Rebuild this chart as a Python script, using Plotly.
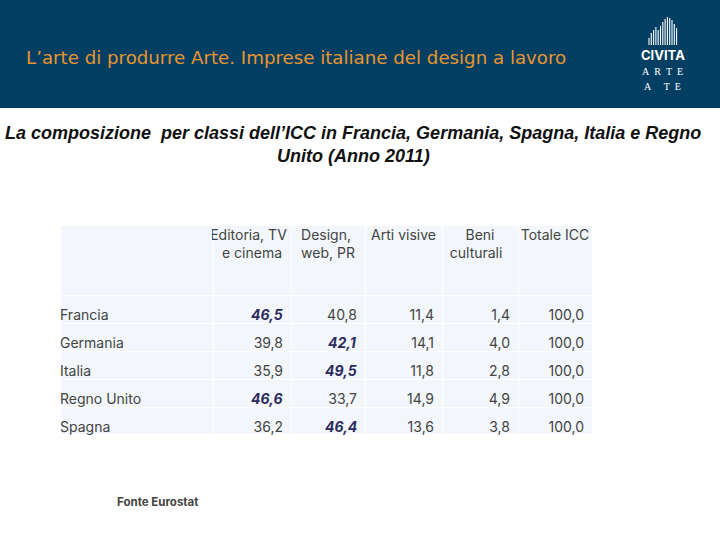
import plotly.graph_objects as go

# table data
countries = ["Francia", "Germania", "Italia", "Regno Unito", "Spagna"]
editoria = ["46,5", "39,8", "35,9", "46,6", "36,2"]
design = ["40,8", "42,1", "49,5", "33,7", "46,4"]
arti = ["11,4", "14,1", "11,8", "14,9", "13,6"]
beni = ["1,4", "4,0", "2,8", "4,9", "3,8"]
totale = ["100,0", "100,0", "100,0", "100,0", "100,0"]
headers = ["",
           "Editoria,\u00a0TV<br>\u00a0\u00a0\u00a0e\u00a0cinema\u00a0\u00a0\u00a0",
           "Design,<br>web,\u00a0PR",
           "Arti\u00a0visive<br>\u00a0",
           "\u00a0\u00a0\u00a0\u00a0Beni\u00a0\u00a0\u00a0\u00a0<br>culturali",
           "Totale\u00a0ICC<br>\u00a0"]
stripe_tops = [38, 33, 30, 27, 30, 26, 22, 19, 17, 18, 20, 24, 28]

W, H = 720, 540
FONT = "Inter"
TEXT = "#444444"
BOLD = "#2B2B5E"
FILL = "#F3F7FB"
NONE = "rgba(0,0,0,0)"
SIZE = 14
NB = "\u00a0"

col_edges = [60, 213, 291, 365, 442, 518, 592]
col_w = [b - a for a, b in zip(col_edges, col_edges[1:])]
top, bottom = 225, 435
head_h, row_h = 70, 28
label_nudge = 8   # table text has a fixed 8px pad, labels sit flush with the edge
head_shift = -7
body_shift = 6


def num(v):
    return float(v.replace(",", "."))


def ydom(t, b):
    return [1 - b / H, 1 - t / H]


def note(x, y, s, size, color, family=FONT, anchor="left"):
    return dict(x=x / W, y=1 - y / H, xref="paper", yref="paper", text=s, showarrow=False,
                xanchor=anchor, yanchor="middle", align=anchor,
                font=dict(family=family, size=size, color=color))


# the largest share of each row is bold italic. Tagged text would stretch the
# table rows, so those cells stay empty and the numbers go on top as annotations
ed_plain, de_plain, bold_notes = [], [], []
for r, (a, b) in enumerate(zip(editoria, design)):
    col = 1 if num(a) > num(b) else 2
    ed_plain.append("" if col == 1 else a)
    de_plain.append("" if col == 2 else b)
    bold_notes.append(note(col_edges[col + 1] - 6, top + head_h + r * row_h + 19,
                           "<b><i>%s</i></b>" % (a if col == 1 else b), SIZE, BOLD, FONT, "right"))

fig = go.Figure()

# background grid
fig.add_trace(go.Table(
    domain=dict(x=[60 / W, 592 / W], y=ydom(top, bottom)),
    columnwidth=col_w,
    header=dict(values=[""] * 6, height=head_h, fill_color=FILL, line=dict(color="white", width=1)),
    cells=dict(values=[[""] * 5] * 6, height=row_h, fill_color=FILL, line=dict(color="white", width=1)),
))

# header text
fig.add_trace(go.Table(
    domain=dict(x=[60 / W, 592 / W], y=ydom(top + head_shift, top + head_shift + head_h)),
    columnwidth=col_w,
    header=dict(values=headers, height=head_h, align="center", fill_color=NONE, line=dict(width=0),
                font=dict(family=FONT, size=SIZE, color=TEXT)),
    cells=dict(values=[[]] * 6),
))

# body text
fig.add_trace(go.Table(
    domain=dict(x=[(60 - label_nudge) / W, 592 / W], y=ydom(top + body_shift, bottom + body_shift)),
    columnwidth=[col_w[0] + label_nudge] + col_w[1:],
    header=dict(values=[""] * 6, height=head_h, fill_color=NONE, line=dict(width=0)),
    cells=dict(values=[countries, ed_plain, de_plain, arti, beni, totale],
               height=row_h, align=["left"] + ["right"] * 5, fill_color=NONE, line=dict(width=0),
               font=dict(family=FONT, size=SIZE, color=TEXT)),
))

shapes = [dict(type="rect", xref="paper", yref="paper", x0=0, x1=1, y0=1 - 108 / H, y1=1,
               fillcolor="#033F63", line=dict(width=0), layer="below")]
# logo stripes
for i, t in enumerate(stripe_tops):
    x = 649 + i * 2.3
    shapes.append(dict(type="line", xref="paper", yref="paper", x0=x / W, x1=x / W,
                       y0=1 - 45 / H, y1=1 - t / H, line=dict(color="white", width=1.1)))

annotations = [
    note(23.5, 58, "L’arte di produrre Arte. Imprese italiane del design a lavoro", 18.2, "#E8952F", "DejaVu Sans"),
    note(353, 133, "<b><i>La composizione  per classi dell’ICC in Francia, Germania, Spagna, Italia e Regno</i></b>",
         18, "#111111", "Liberation Sans", "center"),
    note(353, 156, "<b><i>Unito (Anno 2011)</i></b>", 18, "#111111", "Liberation Sans", "center"),
    note(115, 502, "<b>Fonte Eurostat</b>", 11.5, TEXT),
    note(663, 55, "<b>CIVITA</b>", 13, "white", FONT, "center"),
    note(662, 72, NB.join(["A", "", "R", "", "T", "", "E"]), 10, "white", "Liberation Serif", "center"),
    note(662, 87, NB.join(["A", "", "", "", "", "T", "", "E"]), 10, "white", "Liberation Serif", "center"),
] + bold_notes

fig.update_layout(width=W, height=H, margin=dict(l=0, r=0, t=0, b=0), paper_bgcolor="white",
                  plot_bgcolor="white", showlegend=False, shapes=shapes, annotations=annotations)

# the page's default body margin would push the banner off the window edge
fig.write_html("out.html", config=dict(displayModeBar=False),
               post_script="document.body.style.margin = '0';")
